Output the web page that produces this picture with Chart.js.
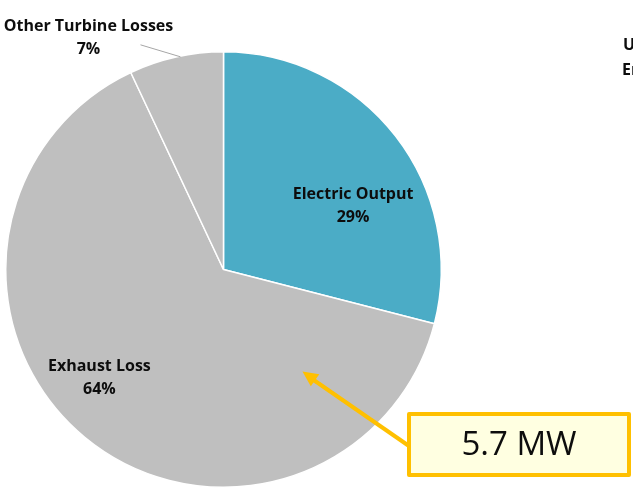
<!DOCTYPE html>
<html>
<head>
<meta charset="utf-8">
<script src="https://cdn.jsdelivr.net/npm/chart.js@4.4.1/dist/chart.umd.min.js"></script>
<style>
  html, body { margin: 0; padding: 0; background: #fff; }
  #wrap { width: 633px; height: 491px; position: relative; }
</style>
</head>
<body>
<div id="wrap"><canvas id="lossChart" width="633" height="491"></canvas></div>
<script>
// Gas turbine energy split
const categories = ['Electric Output', 'Exhaust Loss', 'Other Turbine Losses'];
const shares = [29, 64, 7];
const sliceColors = ['#4BACC6', '#BFBFBF', '#BFBFBF'];
const exhaustPower = '5.7 MW';

const FONT = '"Open Sans", "Liberation Sans", sans-serif';

// label anchor offsets from the pie centre, in units of the radius
const labelSpots = [
    { dx: 0.595, dy: -0.29 },
    { dx: -0.570, dy: 0.50 },
    { dx: -0.62, dy: -1.064, leader: true }
];

const sliceLabels = {
    id: 'sliceLabels',
    afterDatasetsDraw(chart) {
        const ctx = chart.ctx;
        const arc = chart.getDatasetMeta(0).data[0];
        const cx = arc.x, cy = arc.y, r = arc.outerRadius;
        ctx.save();
        ctx.fillStyle = '#0d0d0d';
        ctx.textAlign = 'center';
        ctx.textBaseline = 'middle';
        ctx.font = 'bold 16px ' + FONT;
        categories.forEach((name, i) => {
            const s = labelSpots[i];
            const x = cx + s.dx * r, y = cy + s.dy * r;
            ctx.fillText(name, x, y - 11.5);
            ctx.fillText(shares[i] + '%', x, y + 11.5);
            if (s.leader) {
                ctx.strokeStyle = '#A6A6A6';
                ctx.lineWidth = 1;
                ctx.beginPath();
                ctx.moveTo(x + 52, y + 7);
                ctx.lineTo(x + 92, y + 19);
                ctx.stroke();
            }
        });

        // cut-off legend text at the right edge
        ctx.textAlign = 'left';
        ctx.fillText('Useful', 623, 45);
        ctx.fillText('Energy', 622, 70);

        // callout box with arrow into the exhaust slice
        const bx = 409, by = 414, bw = 220, bh = 61;
        ctx.strokeStyle = '#FFC000';
        ctx.fillStyle = '#FFC000';
        ctx.lineWidth = 4;
        ctx.beginPath();
        ctx.moveTo(bx, by + 32);
        ctx.lineTo(cx + 88, cy + 109);
        ctx.stroke();
        const tipX = cx + 79, tipY = cy + 102;
        const ang = Math.atan2(tipY - (by + 32), tipX - bx);
        ctx.beginPath();
        ctx.moveTo(tipX, tipY);
        ctx.lineTo(tipX - 17 * Math.cos(ang - 0.45), tipY - 17 * Math.sin(ang - 0.45));
        ctx.lineTo(tipX - 17 * Math.cos(ang + 0.45), tipY - 17 * Math.sin(ang + 0.45));
        ctx.closePath();
        ctx.fill();

        ctx.fillStyle = '#FFFFE1';
        ctx.fillRect(bx, by, bw, bh);
        ctx.lineJoin = 'round';
        ctx.strokeRect(bx, by, bw, bh);
        ctx.fillStyle = '#0d0d0d';
        ctx.textAlign = 'center';
        ctx.font = '33px ' + FONT;
        ctx.fillText(exhaustPower, bx + bw / 2, by + bh / 2 + 1);
        ctx.restore();
    }
};

new Chart(document.getElementById('lossChart'), {
    type: 'pie',
    data: {
        labels: categories,
        datasets: [{
            data: shares,
            backgroundColor: sliceColors,
            borderColor: '#fff',
            borderWidth: 1.5
        }]
    },
    options: {
        responsive: false,
        animation: false,
        layout: { padding: { left: 5, top: 51, right: 191, bottom: 3 } },
        plugins: {
            legend: { display: false },
            tooltip: { enabled: false }
        }
    },
    plugins: [sliceLabels]
});
</script>
</body>
</html>
